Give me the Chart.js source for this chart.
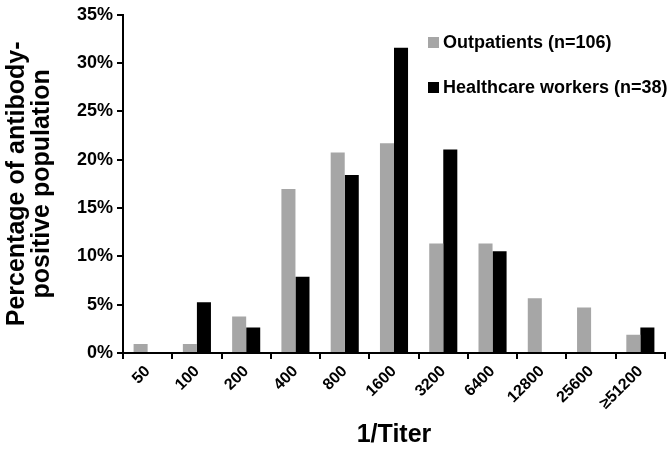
<!DOCTYPE html>
<html>
<head>
<meta charset="utf-8">
<script src="https://cdn.jsdelivr.net/npm/chart.js@4/dist/chart.umd.min.js"></script>
<style>
  body { margin: 0; background: #fff; }
  #wrap { position: relative; width: 672px; height: 450px; }
  .legend { position: absolute; left: 428px; font: bold 18px "Liberation Sans", Arial, sans-serif; color: #000; white-space: nowrap; }
  .legend span { display: inline-block; width: 11px; height: 11px; margin-right: 4px; }
</style>
</head>
<body>
<div id="wrap">
  <canvas id="chart" width="672" height="450"></canvas>
  <div class="legend" style="top:32px"><span style="background:#a6a6a6"></span>Outpatients (n=106)</div>
  <div class="legend" style="top:77px"><span style="background:#000"></span>Healthcare workers (n=38)</div>
</div>
<script>
// 1/titer categories
const titers = ['50', '100', '200', '400', '800', '1600', '3200', '6400', '12800', '25600', '\u226551200'];

// percent of antibody-positive population
const outpatients = [0.94, 0.94, 3.77, 16.98, 20.75, 21.70, 11.32, 11.32, 5.66, 4.72, 1.89];
const healthcareWorkers = [0, 5.26, 2.63, 7.89, 18.42, 31.58, 21.05, 10.53, 0, 0, 2.63];

const yTicks = [0, 5, 10, 15, 20, 25, 30, 35];

const font = 'Liberation Sans';

new Chart(document.getElementById('chart'), {
  type: 'bar',
  data: {
    labels: titers,
    datasets: [
      { label: 'Outpatients (n=106)', data: outpatients, backgroundColor: '#a6a6a6' },
      { label: 'Healthcare workers (n=38)', data: healthcareWorkers, backgroundColor: '#000' },
    ],
  },
  options: {
    responsive: false,
    animation: false,
    categoryPercentage: 0.57,
    barPercentage: 1,
    layout: { padding: { top: 3, right: 7, left: 0, bottom: 0 } },
    plugins: { legend: { display: false }, tooltip: { enabled: false } },
    scales: {
      x: {
        afterFit: s => { s.height = 97; },
        grid: { drawOnChartArea: false, drawTicks: true, tickLength: 6, color: '#000', lineWidth: 2 },
        border: { display: true, color: '#000', width: 2 },
        ticks: { color: '#000', font: { family: font, weight: 'bold', size: 16 }, minRotation: 45, maxRotation: 45, padding: 3 },
        title: { display: true, text: '1/Titer', color: '#000', font: { family: font, weight: 'bold', size: 25 }, padding: { top: 4, bottom: 0 } },
      },
      y: {
        min: 0,
        max: 35,
        afterBuildTicks: s => { s.ticks = yTicks.map(v => ({ value: v })); },
        afterFit: s => { s.width = 123; },
        grid: { drawOnChartArea: false, drawTicks: true, tickLength: 6, color: '#000', lineWidth: 2 },
        border: { display: true, color: '#000', width: 2 },
        ticks: { color: '#000', font: { family: font, weight: 'bold', size: 18 }, padding: 4, callback: v => v + '%' },
        title: { display: true, text: ['Percentage of antibody-', 'positive population'], color: '#000', font: { family: font, weight: 'bold', size: 25, lineHeight: 1.0 }, padding: { top: 5, bottom: 0 } },
      },
    },
  },
});
</script>
</body>
</html>
